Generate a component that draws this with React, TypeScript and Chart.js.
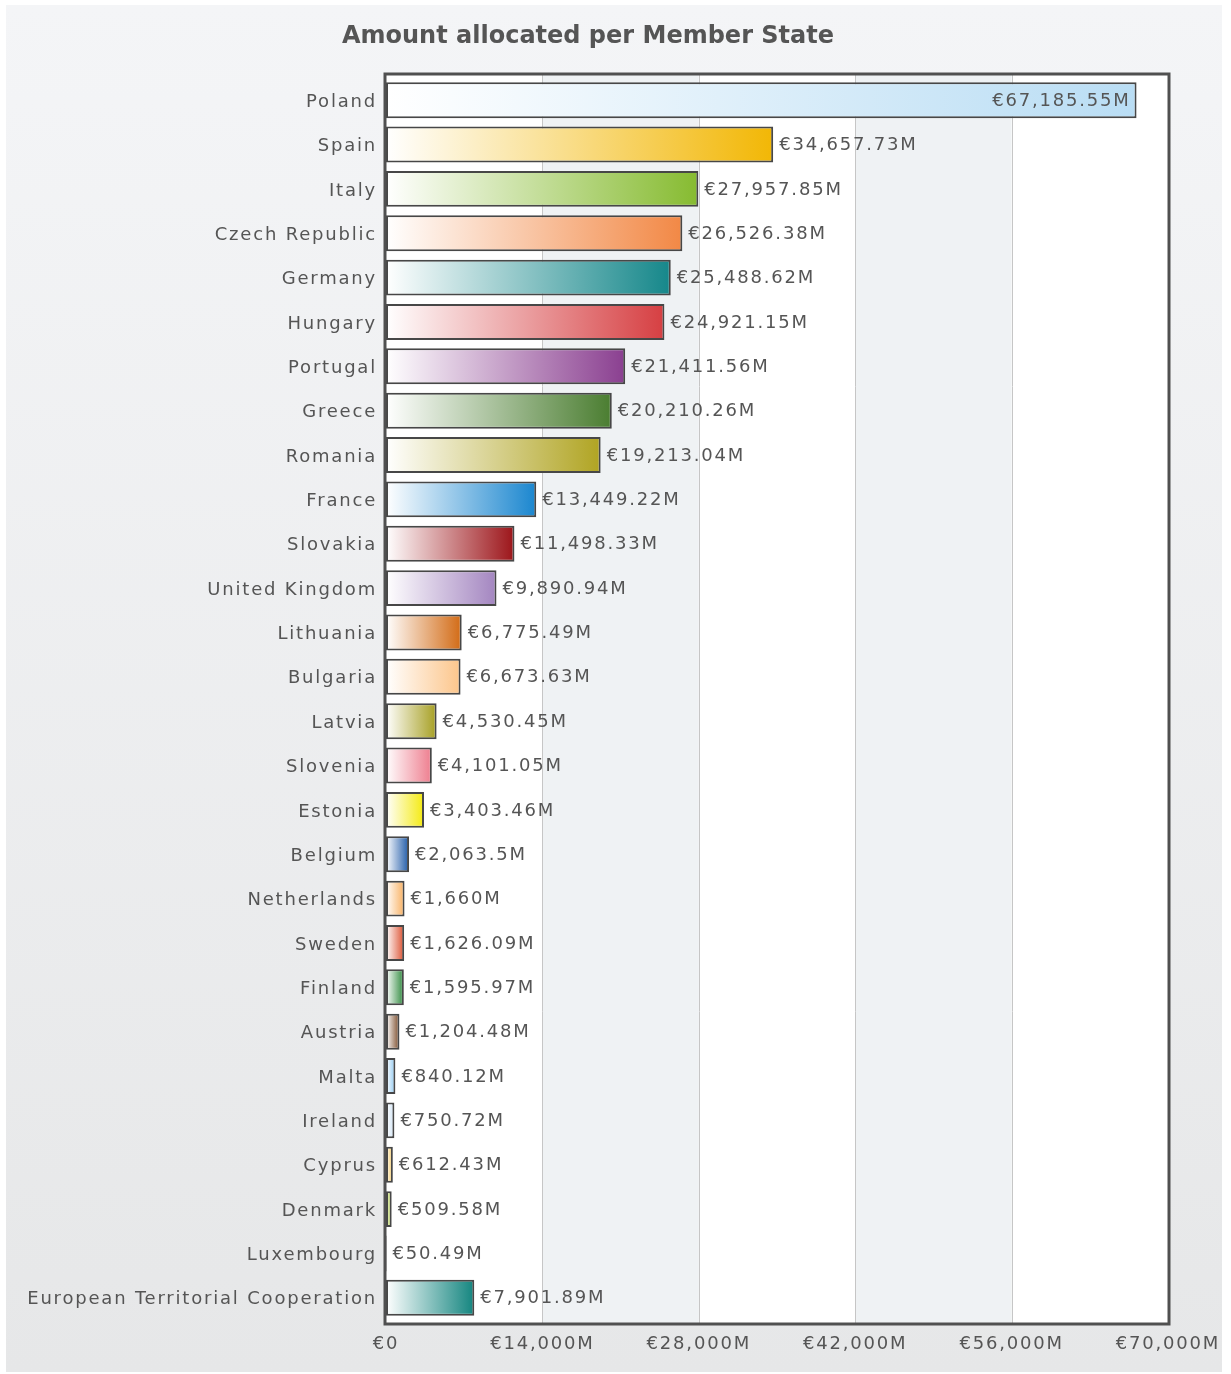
import React, { useEffect, useRef } from "react";
import { Chart, registerables } from "chart.js";

Chart.register(...registerables);

const TITLE = "Amount allocated per Member State";

const categories = [
  "Poland", "Spain", "Italy", "Czech Republic", "Germany", "Hungary", "Portugal",
  "Greece", "Romania", "France", "Slovakia", "United Kingdom", "Lithuania", "Bulgaria",
  "Latvia", "Slovenia", "Estonia", "Belgium", "Netherlands", "Sweden", "Finland",
  "Austria", "Malta", "Ireland", "Cyprus", "Denmark", "Luxembourg",
  "European Territorial Cooperation",
];

const amounts = [
  67185.55, 34657.73, 27957.85, 26526.38, 25488.62, 24921.15, 21411.56,
  20210.26, 19213.04, 13449.22, 11498.33, 9890.94, 6775.49, 6673.63,
  4530.45, 4101.05, 3403.46, 2063.5, 1660, 1626.09, 1595.97,
  1204.48, 840.12, 750.72, 612.43, 509.58, 50.49,
  7901.89,
];

const barColors = [
  "#b9ddf4", "#f2b705", "#86bb30", "#f28845", "#15878a", "#d63f42", "#8a3f90",
  "#4a7d30", "#b0a422", "#1a86cf", "#9c1419", "#a385c0", "#d26a14", "#fcc58a",
  "#a69f22", "#ee7d8e", "#f4ea10", "#1f5aa8", "#f9b060", "#dc5232", "#2f8a3e",
  "#7b4b29", "#8ec9f2", "#cfe3f5", "#f6c655", "#9fc21e", "#aaaaaa",
  "#13857f",
];

const xTicks = [0, 14000, 28000, 42000, 56000, 70000];

const FONT = '"DejaVu Sans"';
const TEXT_COLOR = "#555555";
const SPACING = "1.8px";
const FONT_SIZE = 18;

const fmt = (v: number) =>
  "€" + v.toLocaleString("en-US", { maximumFractionDigits: 2 });

const tickLabel = (v: number) => (v === 0 ? "€0" : fmt(v) + "M");

export default function App() {
  const ref = useRef<HTMLCanvasElement | null>(null);

  useEffect(() => {
    document.body.style.margin = "0";
    const canvas = ref.current;
    if (!canvas) return;

    const backgroundPlugin = {
      id: "bgPlugin",
      beforeDraw(chart: any) {
        const { ctx, scales } = chart;
        const xs = scales.x;
        ctx.save();
        ctx.letterSpacing = "0px";
        ctx.fillStyle = "#ffffff";
        ctx.fillRect(0, 0, chart.width, chart.height);
        const g = ctx.createLinearGradient(0, 5, 0, 1372);
        g.addColorStop(0, "#f4f5f7");
        g.addColorStop(1, "#e6e7e8");
        ctx.fillStyle = g;
        ctx.fillRect(6, 5, 1216, 1367);

        const top = 74;
        const bottom = 1324;
        for (let i = 0; i < xTicks.length - 1; i++) {
          const a = xs.getPixelForValue(xTicks[i]);
          const b = xs.getPixelForValue(xTicks[i + 1]);
          ctx.fillStyle = i % 2 === 0 ? "#ffffff" : "#eff2f4";
          ctx.fillRect(a, top, b - a, bottom - top);
        }
        ctx.strokeStyle = "#c6c6c6";
        ctx.lineWidth = 1;
        for (let i = 1; i < xTicks.length - 1; i++) {
          const x = Math.round(xs.getPixelForValue(xTicks[i])) + 0.5;
          ctx.beginPath();
          ctx.moveTo(x, top);
          ctx.lineTo(x, bottom);
          ctx.stroke();
        }

        ctx.fillStyle = TEXT_COLOR;
        ctx.font = `bold 24px ${FONT}`;
        ctx.textAlign = "center";
        ctx.textBaseline = "middle";
        ctx.fillText(TITLE, 588, 37);
        ctx.restore();
        ctx.letterSpacing = SPACING;
      },
      afterDatasetsDraw(chart: any) {
        const { ctx, scales } = chart;
        const xs = scales.x;
        const meta = chart.getDatasetMeta(0);
        ctx.save();
        ctx.letterSpacing = SPACING;
        ctx.font = `${FONT_SIZE}px ${FONT}`;
        ctx.fillStyle = TEXT_COLOR;
        ctx.textBaseline = "middle";
        meta.data.forEach((el: any, i: number) => {
          const text = fmt(amounts[i]) + "M";
          const end = xs.getPixelForValue(amounts[i]);
          if (i === 0) {
            ctx.textAlign = "right";
            ctx.fillText(text, end - 6, el.y + 1);
          } else {
            ctx.textAlign = "left";
            ctx.fillText(text, end + 6, el.y + 1);
          }
        });
        ctx.restore();

        ctx.save();
        ctx.strokeStyle = "#505050";
        ctx.lineWidth = 3;
        const l = xs.getPixelForValue(0) - 1;
        const r = xs.getPixelForValue(70000) + 1;
        ctx.strokeRect(l, 74, r - l, 1324 - 74);
        ctx.restore();
        ctx.letterSpacing = SPACING;
      },
    };

    const chart = new Chart(canvas, {
      type: "bar",
      data: {
        labels: categories,
        datasets: [
          {
            data: amounts,
            backgroundColor: (c: any) => {
              const ch = c.chart;
              const i = c.dataIndex;
              if (!ch.chartArea || !ch.scales.x || i === undefined) return barColors[i ?? 0];
              const x0 = ch.scales.x.getPixelForValue(0);
              const x1 = ch.scales.x.getPixelForValue(amounts[i]);
              const g = ch.ctx.createLinearGradient(x0, 0, Math.max(x1, x0 + 1), 0);
              g.addColorStop(0, "#ffffff");
              g.addColorStop(1, barColors[i]);
              return g;
            },
            borderColor: "#474747",
            borderWidth: 2,
            borderSkipped: false,
            barPercentage: 0.81,
            categoryPercentage: 1,
          },
        ],
      },
      options: {
        indexAxis: "y",
        responsive: false,
        animation: false,
        devicePixelRatio: 1,
        layout: { padding: { top: 78, right: 63, bottom: 0, left: 0 } },
        plugins: {
          legend: { display: false },
          title: { display: false },
          tooltip: { enabled: false },
        },
        scales: {
          x: {
            type: "linear",
            min: 0,
            max: 70000,
            afterBuildTicks: (scale: any) => {
              scale.ticks = xTicks.map((v) => ({ value: v }));
            },
            afterFit: (scale: any) => {
              scale.height = 54;
            },
            grid: { display: false },
            border: { display: false },
            ticks: {
              color: TEXT_COLOR,
              font: { family: FONT, size: FONT_SIZE },
              padding: 6,
              maxRotation: 0,
              autoSkip: false,
              callback: (v: any) => tickLabel(Number(v)),
            },
          },
          y: {
            afterFit: (scale: any) => {
              scale.width = 386;
            },
            grid: { display: false },
            border: { display: false },
            ticks: {
              color: TEXT_COLOR,
              font: { family: FONT, size: FONT_SIZE },
              padding: 1,
              labelOffset: 2,
              autoSkip: false,
            },
          },
        },
      },
      plugins: [backgroundPlugin],
    } as any);

    return () => chart.destroy();
  }, []);

  return (
    <div style={{ width: 1231, height: 1374 }}>
      <canvas ref={ref} width={1231} height={1374} style={{ display: "block" }} />
    </div>
  );
}
